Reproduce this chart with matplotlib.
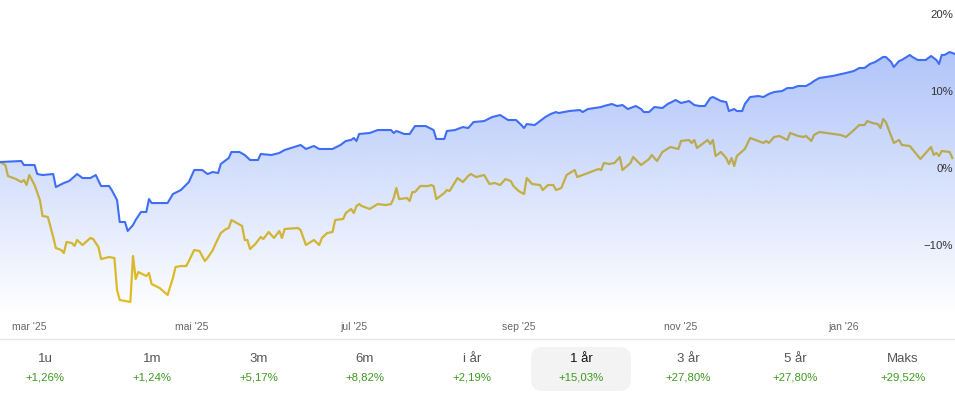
import matplotlib
matplotlib.use("Agg")
import matplotlib.pyplot as plt
import numpy as np
import pandas as pd
from matplotlib.patches import FancyBboxPatch

plt.rcParams['font.family'] = ['Liberation Sans', 'DejaVu Sans']

start_date = "2025-02-18"

blue_day = [0, 8, 9, 13, 14, 16, 20, 21, 24, 26, 29, 31, 34, 36, 38, 41, 42, 44, 45, 47,
            48, 50, 51, 53, 55, 56, 57, 63, 65, 68, 71, 73, 76, 78, 80, 82, 83, 86, 87, 90,
            92, 94, 97, 98, 102, 105, 107, 113, 115, 118, 120, 125, 128, 130, 132, 133, 134, 135, 139, 142,
            147, 148, 149, 152, 154, 156, 160, 163, 164, 167, 168, 171, 174, 176, 178, 182, 185, 188, 191, 194,
            196, 197, 198, 201, 203, 205, 207, 209, 210, 214, 218, 219, 221, 226, 227, 230, 232, 234, 236, 239,
            241, 242, 244, 246, 249, 251, 254, 256, 259, 261, 263, 265, 267, 268, 271, 273, 274, 276, 277, 279,
            280, 282, 285, 287, 289, 291, 294, 296, 298, 300, 303, 305, 306, 308, 313, 318, 321, 323, 325, 327,
            329, 332, 333, 335, 336, 338, 339, 342, 343, 345, 348, 350, 352, 353, 354, 355, 357, 359]
blue_pct = [0.91, 1.04, 0.52, 0.52, -0.65, -0.78, -0.65, -2.34, -1.82, -1.56, -0.65, -1.17, -1.17, -0.78, -2.21, -2.21, -2.73, -4.03, -6.88, -6.88,
            -8.05, -7.27, -6.62, -5.58, -5.58, -3.90, -4.42, -4.42, -3.25, -2.73, -1.69, -0.13, -0.13, -0.65, -0.39, -0.52, 0.65, 1.43, 2.21, 2.21,
            1.82, 1.17, 1.17, 1.95, 1.82, 2.08, 2.47, 3.12, 2.60, 2.99, 2.60, 2.60, 3.12, 3.64, 3.77, 4.03, 3.64, 4.55, 4.68, 5.06,
            5.06, 4.68, 4.94, 4.55, 4.55, 5.58, 5.58, 5.06, 3.90, 3.90, 4.94, 5.06, 5.45, 5.32, 6.10, 6.23, 6.75, 7.01, 6.36, 6.36,
            5.71, 5.32, 5.84, 5.71, 6.23, 6.75, 7.14, 7.40, 7.27, 7.53, 7.66, 7.40, 7.79, 8.05, 8.18, 8.44, 8.18, 8.31, 7.79, 8.18,
            7.79, 7.40, 7.40, 8.05, 7.92, 8.44, 8.96, 8.57, 8.83, 8.31, 8.18, 8.18, 9.22, 9.35, 8.83, 8.70, 7.53, 7.79, 7.53, 7.53,
            8.44, 9.35, 9.48, 9.35, 9.74, 10.00, 10.13, 10.52, 10.52, 10.78, 10.78, 11.17, 11.43, 11.82, 12.08, 12.47, 12.73, 13.12, 13.12, 13.64,
            13.90, 14.55, 14.55, 13.90, 13.25, 14.03, 14.16, 14.81, 14.55, 14.16, 14.16, 14.68, 14.16, 13.64, 14.81, 14.81, 15.19, 14.94]

yellow_day = [0, 2, 3, 6, 8, 9, 10, 11, 13, 15, 16, 18, 20, 21, 23, 24, 25, 27, 28, 29,
              31, 34, 35, 37, 38, 41, 43, 44, 45, 49, 50, 51, 52, 55, 56, 57, 60, 63, 65, 66,
              68, 70, 71, 73, 75, 77, 78, 80, 81, 83, 85, 86, 87, 89, 91, 92, 93, 94, 96, 98,
              99, 101, 103, 105, 106, 107, 112, 113, 115, 118, 120, 121, 123, 125, 126, 129, 130, 132, 133, 134,
              135, 136, 139, 142, 145, 147, 148, 149, 150, 153, 154, 155, 156, 158, 161, 162, 163, 164, 167, 168,
              169, 172, 174, 176, 177, 179, 182, 184, 186, 188, 190, 192, 193, 195, 197, 198, 200, 203, 204, 206,
              208, 209, 211, 213, 216, 217, 220, 223, 225, 226, 227, 229, 231, 233, 234, 237, 238, 241, 244, 245,
              247, 249, 252, 255, 256, 259, 260, 261, 262, 264, 266, 267, 268, 269, 271, 273, 274, 275, 276, 277,
              280, 282, 285, 287, 288, 289, 291, 293, 296, 297, 300, 302, 303, 305, 306, 308, 316, 318, 321, 323,
              325, 326, 328, 330, 331, 332, 333, 336, 338, 339, 342, 346, 350, 351, 352, 353, 354, 357, 358]
yellow_pct = [0.91, 0.52, -0.91, -1.30, -1.69, -1.43, -2.08, -0.78, -2.08, -4.03, -6.10, -6.23, -8.83, -10.26, -10.52, -10.91, -9.48, -9.61, -10.00, -9.22,
              -9.87, -8.96, -9.09, -10.13, -11.69, -11.43, -11.56, -15.71, -17.01, -17.27, -11.30, -14.29, -13.38, -13.90, -13.51, -14.94, -15.45, -16.36, -14.16, -12.73,
              -12.60, -12.60, -11.95, -10.52, -10.65, -11.95, -11.56, -10.52, -9.74, -8.31, -7.79, -7.66, -6.62, -7.01, -7.40, -9.22, -9.22, -10.39, -9.74, -8.83,
              -9.09, -8.18, -8.96, -8.05, -8.96, -7.79, -7.66, -7.92, -9.87, -9.22, -9.87, -8.96, -8.31, -8.18, -6.62, -6.49, -5.71, -5.19, -5.71, -4.81,
              -4.55, -4.81, -5.19, -4.55, -4.68, -4.55, -3.77, -2.47, -3.90, -3.77, -4.16, -2.99, -2.99, -2.21, -2.21, -2.08, -2.21, -3.90, -3.12, -2.73,
              -2.86, -1.17, -1.69, -0.91, -0.65, -1.04, -0.78, -1.95, -1.82, -2.08, -1.30, -1.56, -2.21, -2.86, -3.25, -1.17, -1.95, -2.08, -2.73, -2.08,
              -2.08, -2.73, -2.47, -0.78, -0.13, -1.04, -0.65, -0.26, 0.00, -0.13, 0.78, 0.65, 0.78, 1.56, -0.13, 0.78, 1.56, 0.52, 1.30, 1.82,
              1.04, 2.21, 2.86, 2.60, 3.64, 3.77, 3.38, 3.77, 2.73, 3.25, 3.77, 3.25, 3.77, 1.69, 2.21, 1.43, 0.65, 1.43, 0.39, 1.69,
              2.60, 4.03, 3.64, 3.38, 3.64, 3.38, 4.16, 4.29, 3.77, 4.68, 4.29, 4.16, 4.29, 3.64, 4.42, 4.81, 4.42, 4.16, 5.06, 5.71,
              5.71, 6.23, 5.97, 5.84, 5.32, 6.49, 6.10, 3.38, 3.77, 3.12, 2.99, 1.30, 2.86, 1.82, 2.08, 1.69, 2.34, 2.21, 1.43]

month_ticks = ["2025-03-01", "2025-05-01", "2025-07-01", "2025-09-01", "2025-11-01", "2026-01-01"]
month_labels = ["mar '25", "mai '25", "jul '25", "sep '25", "nov '25", "jan '26"]
y_ticks = [20, 10, 0, -10]
y_labels = ["20%", "10%", "0%", "\u221210%"]

periods = ["1u", "1m", "3m", "6m", "i år", "1 år", "3 år", "5 år", "Maks"]
returns = ["+1,26%", "+1,24%", "+5,17%", "+8,82%", "+2,19%", "+15,03%", "+27,80%", "+27,80%", "+29,52%"]
selected = "1 år"

W, H = 955, 395
fig = plt.figure(figsize=(W / 100, H / 100), dpi=100)
ax = fig.add_axes([0, (H - 315) / H, 1, 315 / H])

t0 = pd.Timestamp(start_date)
bx = t0 + pd.to_timedelta(blue_day, unit="D")
yx = t0 + pd.to_timedelta(yellow_day, unit="D")
bxn = matplotlib.dates.date2num(bx)
yxn = matplotlib.dates.date2num(yx)

ymin, ymax = -18.96, 21.95
xmin = matplotlib.dates.date2num(t0)
xmax = matplotlib.dates.date2num(t0 + pd.Timedelta(days=359))
ax.set_xlim(xmin, xmax)
ax.set_ylim(ymin, ymax)

# yellow line underneath the gradient fill
ax.plot(yxn, yellow_pct, color="#e6bf1c", lw=1.6, zorder=1, solid_joinstyle="round")

# gradient fill under blue
poly = ax.fill_between(bxn, blue_pct, ymin, color="none", lw=0, zorder=2)
grad = np.zeros((256, 1, 4))
base = matplotlib.colors.to_rgb("#3a6df0")
grad[:, 0, 0] = base[0]
grad[:, 0, 1] = base[1]
grad[:, 0, 2] = base[2]
grad[:, 0, 3] = np.linspace(0.48, 0.0, 256)
im = ax.imshow(grad, aspect="auto", extent=[xmin, xmax, ymin, ymax], origin="upper", zorder=2)
path = poly.get_paths()[0]
im.set_clip_path(path, transform=ax.transData)
ax.set_xlim(xmin, xmax)
ax.set_ylim(ymin, ymax)

ax.plot(bxn, blue_pct, color="#3f6ef5", lw=1.5, zorder=3, solid_joinstyle="round")

for s in ax.spines.values():
    s.set_visible(False)
ax.set_yticks([])
ax.set_xticks(matplotlib.dates.date2num(pd.to_datetime(month_ticks)))
ax.set_xticklabels(month_labels, fontsize=7.5, color="#666666")
ax.tick_params(axis="x", length=0, pad=5)

for v, lab in zip(y_ticks, y_labels):
    ax.text(0.998, v, lab, transform=ax.get_yaxis_transform(), ha="right", va="center",
            fontsize=8.2, color="#333333", zorder=5)

# separator line
fig.add_artist(plt.Line2D([0, 1], [1 - 339 / H, 1 - 339 / H], color="#e8e8e8", lw=1))

# period buttons
centers = [45, 152, 259, 365, 472, 581, 688, 795, 903]
for cx, p, r in zip(centers, periods, returns):
    if p == selected:
        box = FancyBboxPatch(((cx - 50) / W, 1 - 391 / H), 100 / W, 44 / H,
                             boxstyle="round,pad=0,rounding_size=0.012",
                             transform=fig.transFigure, facecolor="#f3f3f3", edgecolor="none",
                             mutation_aspect=W / H)
        fig.add_artist(box)
        col = "#111111"
    else:
        col = "#555555"
    fig.text(cx / W, 1 - 359 / H, p, ha="center", va="center", fontsize=9.5, color=col)
    fig.text(cx / W, 1 - 378 / H, r, ha="center", va="center", fontsize=8.2, color="#3e9a1f")

fig.savefig("out.png", dpi=100)
